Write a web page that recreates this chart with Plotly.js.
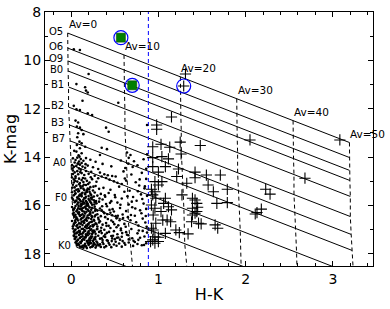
<!DOCTYPE html>
<html><head><meta charset="utf-8">
<script src="https://cdn.plot.ly/plotly-3.0.1.min.js"></script>
<style>html,body{margin:0;padding:0;background:#fff}</style>
</head><body><div id="chart" style="width:390px;height:309px"></div>
<script>
// spectral types, intrinsic H-K, K magnitude at Av=0
const spType = ['O5','O6','O9','B0','B1','B2','B3','B7','A0','F0','K0'];
const intrinsicHK = [-0.04,-0.04,-0.04,-0.035,-0.03,-0.03,-0.02,-0.01,0.0,0.01,0.06];
const kmagAv0 = [8.87,9.49,10.02,10.44,11.10,11.93,12.67,13.33,14.32,15.77,17.72];
const avLevels = [0,10,20,30,40,50];
const avLabels = ['Av=0','Av=10','Av=20','Av=30','Av=40','Av=50'];
const ehkPerAv = 0.0646;
const akPerAv = 0.0905;
const cutHK = 0.885;
const xTicks = [0,1,2,3];
const yTicks = [8,10,12,14,16,18];

// sources without IR excess (dots)
const dots = [
[0.03,9.54],[0.10,9.57],[0.20,10.56],[0.06,10.98],[0.16,11.11],[0.17,11.25],[0.19,11.33],[0.13,11.67],[0.54,11.75],[0.03,11.88],[0.06,12.02],[0.10,12.05],[0.19,12.19],[0.24,12.26],[0.05,12.49],[0.08,12.57],[0.065,12.74],[0.10,12.78],[0.12,12.88],[0.40,12.78],[0.43,12.95],[0.87,12.67],[0.08,13.01],[0.14,13.05],[0.07,13.18],[0.095,13.36],[0.12,13.43],[0.065,13.50],[0.16,13.57],[0.10,13.63],[0.35,13.61],[0.41,13.67],[0.06,13.77],[0.12,13.84],[0.33,13.91],[0.64,13.81],[0.68,13.91],[0.87,13.88],[0.095,13.98],
[0.02,14.05],[0.05,14.12],[0.07,14.02],[0.09,14.18],[0.11,14.08],[0.14,14.15],[0.17,14.04],[0.22,14.11],[0.28,14.19],[0.57,14.14],[0.66,14.03],[0.72,14.17],[0.83,14.09],[0.04,14.22],[0.08,14.27],[0.12,14.24],[0.36,14.28],
[0.01,14.33],[0.03,14.41],[0.06,14.36],[0.09,14.47],[0.10,14.31],[0.13,14.39],[0.16,14.44],[0.19,14.35],[0.25,14.42],[0.31,14.49],[0.46,14.38],[0.62,14.45],[0.76,14.34],[0.86,14.48],
[0.02,14.55],[0.04,14.63],[0.07,14.58],[0.08,14.71],[0.11,14.52],[0.12,14.66],[0.15,14.74],[0.17,14.57],[0.20,14.69],[0.23,14.61],[0.27,14.77],[0.33,14.64],[0.38,14.71],[0.42,14.75],[0.47,14.78],[0.51,14.80],[0.60,14.59],[0.69,14.72],[0.81,14.65],
[0.35,14.80],[0.40,14.86],[0.44,14.93],[0.49,15.00],[0.53,15.06],[0.58,15.11],
[0.01,14.84],[0.03,14.92],[0.05,14.86],[0.07,15.01],[0.09,14.89],[0.10,15.07],[0.12,14.95],[0.14,15.03],[0.16,14.88],[0.18,14.98],[0.21,15.05],[0.24,14.91],[0.29,15.02],[0.31,14.87],[0.63,14.97],[0.74,15.04],[0.86,14.90],
[0.02,15.14],[0.04,15.25],[0.06,15.18],[0.08,15.33],[0.09,15.12],[0.11,15.28],[0.13,15.21],[0.15,15.36],[0.17,15.15],[0.19,15.30],[0.22,15.24],[0.25,15.38],[0.28,15.19],[0.32,15.31],[0.37,15.27],[0.45,15.35],[0.55,15.22],[0.67,15.39],[0.78,15.17],[0.84,15.29],
[0.01,15.45],[0.03,15.58],[0.05,15.49],[0.07,15.66],[0.08,15.42],[0.10,15.55],[0.12,15.62],[0.13,15.47],[0.15,15.69],[0.16,15.53],[0.18,15.44],[0.20,15.61],[0.22,15.51],[0.24,15.67],[0.27,15.46],[0.30,15.59],[0.34,15.52],[0.39,15.64],[0.43,15.48],[0.50,15.57],[0.61,15.43],[0.71,15.65],[0.80,15.54],[0.87,15.60],
[0.02,15.74],[0.04,15.86],[0.06,15.79],[0.07,15.95],[0.09,15.72],[0.11,15.83],[0.12,15.98],[0.14,15.76],[0.15,15.89],[0.17,15.81],[0.19,15.93],[0.20,15.73],[0.22,15.85],[0.24,15.97],[0.26,15.78],[0.29,15.91],[0.32,15.84],[0.36,15.75],[0.40,15.94],[0.46,15.82],[0.53,15.88],[0.58,15.71],[0.66,15.96],[0.75,15.80],[0.83,15.92],
[0.01,16.06],[0.03,16.15],[0.05,16.02],[0.06,16.24],[0.08,16.11],[0.09,16.28],[0.11,16.04],[0.12,16.19],[0.14,16.09],[0.15,16.26],[0.17,16.13],[0.18,16.01],[0.20,16.22],[0.21,16.08],[0.23,16.17],[0.25,16.29],[0.27,16.05],[0.30,16.21],[0.33,16.12],[0.37,16.27],[0.41,16.03],[0.44,16.18],[0.49,16.25],[0.56,16.10],[0.63,16.23],[0.70,16.07],[0.79,16.20],[0.86,16.14],
[0.02,16.34],[0.04,16.46],[0.05,16.38],[0.07,16.55],[0.08,16.31],[0.10,16.43],[0.11,16.58],[0.13,16.36],[0.14,16.49],[0.16,16.33],[0.17,16.57],[0.19,16.41],[0.20,16.52],[0.22,16.35],[0.24,16.47],[0.26,16.59],[0.28,16.39],[0.31,16.51],[0.34,16.44],[0.38,16.32],[0.42,16.56],[0.47,16.40],[0.52,16.53],[0.59,16.37],[0.65,16.48],[0.73,16.42],[0.82,16.54],
[0.01,16.64],[0.03,16.77],[0.05,16.69],[0.06,16.85],[0.08,16.62],[0.09,16.74],[0.10,16.88],[0.12,16.67],[0.13,16.81],[0.15,16.71],[0.16,16.89],[0.18,16.63],[0.19,16.78],[0.21,16.70],[0.22,16.86],[0.24,16.66],[0.26,16.80],[0.28,16.73],[0.30,16.87],[0.33,16.65],[0.36,16.79],[0.40,16.72],[0.43,16.84],[0.48,16.68],[0.54,16.82],[0.61,16.76],[0.68,16.61],[0.77,16.83],[0.85,16.70],
[0.02,16.95],[0.03,17.08],[0.05,16.99],[0.06,17.15],[0.08,16.92],[0.09,17.04],[0.11,17.18],[0.12,16.97],[0.14,17.11],[0.15,17.01],[0.17,17.19],[0.18,16.94],[0.20,17.07],[0.21,17.16],[0.23,16.98],[0.25,17.12],[0.26,17.03],[0.28,17.17],[0.30,16.96],[0.32,17.09],[0.35,17.14],[0.38,17.00],[0.41,17.13],[0.45,16.93],[0.49,17.06],[0.53,17.19],[0.57,17.02],[0.63,17.10],[0.69,16.97],[0.76,17.15],[0.82,17.05],[0.87,17.12],
[0.03,17.24],[0.04,17.38],[0.06,17.29],[0.07,17.45],[0.09,17.22],[0.10,17.34],[0.12,17.48],[0.13,17.27],[0.15,17.41],[0.16,17.31],[0.18,17.47],[0.19,17.23],[0.21,17.36],[0.22,17.44],[0.24,17.28],[0.26,17.40],[0.27,17.33],[0.29,17.49],[0.31,17.25],[0.33,17.37],[0.36,17.43],[0.39,17.30],[0.42,17.46],[0.46,17.26],[0.50,17.39],[0.54,17.32],[0.59,17.47],[0.64,17.21],[0.70,17.35],[0.77,17.42],[0.84,17.28],
[0.05,17.53],[0.07,17.64],[0.08,17.57],[0.10,17.70],[0.11,17.55],[0.13,17.66],[0.14,17.75],[0.16,17.58],[0.17,17.69],[0.19,17.52],[0.20,17.63],[0.22,17.73],[0.23,17.56],[0.25,17.67],[0.27,17.60],[0.28,17.74],[0.30,17.54],[0.32,17.65],[0.34,17.71],[0.37,17.59],[0.40,17.68],[0.43,17.55],[0.46,17.72],[0.49,17.61],[0.52,17.66],[0.55,17.57],[0.58,17.70],[0.62,17.62],[0.66,17.53],[0.71,17.67],[0.76,17.59],[0.81,17.64],[0.86,17.56],
[0.06,15.35],[0.09,15.40],[0.14,15.31],[0.18,15.37],[0.21,15.43],[0.12,15.51],[0.17,15.64],[0.09,15.60],[0.23,15.57],[0.26,15.63],
[0.05,15.82],[0.08,15.88],[0.10,15.77],[0.13,15.92],[0.16,15.70],[0.18,15.87],[0.21,15.79],[0.23,15.90],[0.27,15.86],[0.11,15.96],
[0.04,16.10],[0.07,16.19],[0.10,16.14],[0.13,16.23],[0.16,16.06],[0.19,16.17],[0.22,16.27],[0.24,16.09],[0.28,16.16],[0.35,16.20],
[0.03,16.40],[0.06,16.49],[0.09,16.36],[0.12,16.53],[0.15,16.42],[0.18,16.50],[0.21,16.38],[0.23,16.56],[0.27,16.45],[0.30,16.36],
[0.04,16.72],[0.07,16.81],[0.11,16.75],[0.14,16.65],[0.17,16.83],[0.20,16.76],[0.23,16.68],[0.25,16.87],[0.29,16.77],[0.32,16.70],
[0.04,17.02],[0.07,17.11],[0.10,17.07],[0.13,17.16],[0.16,17.05],[0.19,17.13],[0.22,17.01],[0.24,17.18],[0.27,17.08],[0.34,17.04],
[0.05,17.33],[0.08,17.41],[0.11,17.30],[0.14,17.37],[0.17,17.26],[0.20,17.44],[0.23,17.34],[0.25,17.47],[0.28,17.29],[0.35,17.35],
[0.09,17.62],[0.12,17.72],[0.15,17.64],[0.18,17.76],[0.21,17.58],[0.24,17.70],[0.26,17.55],[0.29,17.66],[0.33,17.60],[0.38,17.73],
[0.02,14.70],[0.05,14.79],[0.03,15.05],[0.04,15.40],[0.01,15.68],[0.03,16.30],[0.02,16.86],[0.04,17.17],[0.06,17.48],
[0.36,17.52],[0.41,17.44],[0.47,17.36],[0.51,17.50],[0.56,17.41],[0.61,17.55],[0.44,17.62],[0.39,17.20],[0.48,17.25],[0.58,17.29],[0.66,17.40],[0.73,17.51],[0.79,17.33],[0.52,16.90],[0.46,16.62],[0.57,16.95],[0.39,16.48],[0.45,16.30],[0.51,16.44],
[0.015,15.26],[0.045,15.52],[0.075,15.71],[0.105,15.19],[0.135,15.84],[0.165,15.46],[0.195,15.99],[0.225,15.68],[0.255,15.22],[0.285,15.81],
[0.025,16.18],[0.055,16.57],[0.085,16.02],[0.115,16.39],[0.145,16.71],[0.175,16.26],[0.205,16.93],[0.235,16.44],[0.265,16.63],[0.295,16.98],
[0.035,17.27],[0.065,17.59],[0.095,17.12],[0.125,17.43],[0.155,17.68],[0.185,17.21],[0.215,17.52],[0.245,17.06],[0.275,17.39],[0.305,17.61],
[0.015,14.47],[0.045,14.98],[0.075,14.26],[0.105,14.62],[0.135,14.86],[0.165,14.29],[0.195,15.11],[0.225,14.83],[0.035,13.74],[0.085,13.92],
[0.115,15.58],[0.145,15.14],[0.175,15.93],[0.205,15.33],[0.235,15.74],[0.265,15.96],[0.125,16.12],[0.155,16.61],[0.185,16.84],[0.215,16.33],
[0.245,16.81],[0.275,16.22],[0.135,16.96],[0.165,17.32],[0.195,17.57],[0.225,17.28],[0.255,17.63],[0.105,17.51],[0.075,16.93],[0.045,16.63],
[0.315,16.58],[0.345,16.92],[0.375,17.27],[0.405,16.84],[0.435,17.09],[0.465,17.47],[0.495,16.77],[0.525,17.33],[0.555,16.61],[0.585,17.14],
[0.325,15.71],[0.355,16.03],[0.385,15.58],[0.415,16.36],[0.445,15.89],[0.475,16.15],[0.505,15.66],[0.535,16.42],[0.565,15.97],[0.595,16.52],
[0.625,16.88],[0.655,17.23],[0.685,16.39],[0.715,17.46],[0.745,16.69],[0.775,17.03],[0.805,16.32],[0.835,17.63],[0.865,16.88],[0.645,15.62],
[0.695,15.84],[0.735,16.12],[0.765,15.41],[0.815,15.73],[0.855,16.43],[0.615,14.88],[0.705,14.41],[0.785,14.92],[0.845,15.21],[0.655,14.27]
];

// sources with IR excess (crosses)
const crosses = [
[1.31,10.56],[1.29,11.06],[1.15,12.34],[0.98,12.67],[0.98,12.85],[1.25,13.38],[0.935,13.57],[1.03,13.47],[1.13,13.59],[1.48,13.52],[2.05,13.29],[3.08,13.29],[1.26,13.87],[0.935,14.02],[1.04,13.98],[1.115,14.07],[0.935,14.39],[1.08,14.39],[1.00,14.62],[1.23,14.49],[1.21,14.80],[1.42,14.62],[1.55,14.74],[1.71,14.74],[1.42,14.85],[0.96,15.01],[1.04,15.01],[1.00,15.15],[1.325,15.08],[1.57,15.15],[1.63,15.43],[1.79,15.33],[0.92,15.33],[0.96,15.43],[0.935,15.56],[0.97,15.70],[1.08,15.70],[1.27,15.56],[1.39,15.70],[1.67,15.91],[1.79,15.88],[0.92,15.98],[1.06,15.91],[1.115,16.05],[0.96,16.11],[1.03,16.25],[1.15,16.18],[1.45,16.07],[1.44,16.25],[1.39,16.39],[0.94,16.39],[1.05,16.60],[1.10,16.60],[1.14,16.67],[0.97,16.73],[1.38,16.67],[1.49,16.76],[1.65,16.80],[1.68,16.94],[0.92,16.94],[0.94,17.01],[1.20,17.01],[1.24,17.12],[1.34,17.17],[1.08,17.15],[0.96,17.29],[1.00,17.31],[0.91,17.49],[0.96,17.56],[0.935,17.42],[1.00,17.49],[2.23,15.33],[2.28,15.53],[2.18,16.15],[2.13,16.29],[2.11,16.35],[2.68,14.87],[1.42,15.77],[1.44,15.91],[1.39,16.11],[1.42,16.32],[1.46,16.73]
];

const greenSources = [[0.57,9.06],[0.70,11.03]];
const circledSources = [[0.57,9.06],[0.70,11.03],[1.29,11.06]];

// build reddening lines
const solidX = [], solidY = [];
spType.forEach((t,i)=>{
  const a0 = avLevels[0], a1 = avLevels[avLevels.length-1];
  solidX.push(intrinsicHK[i]+a0*ehkPerAv, intrinsicHK[i]+a1*ehkPerAv, null);
  solidY.push(kmagAv0[i]+a0*akPerAv, kmagAv0[i]+a1*akPerAv, null);
});
const dashX = [], dashY = [];
avLevels.forEach(av=>{
  spType.forEach((t,i)=>{
    dashX.push(intrinsicHK[i]+av*ehkPerAv);
    dashY.push(kmagAv0[i]+av*akPerAv);
  });
  dashX.push(null); dashY.push(null);
});

const yRange = [18.5, 8];
const xRange = [-0.3, 3.46];

const traces = [
  {x:solidX, y:solidY, mode:'lines', line:{color:'black', width:1}, hoverinfo:'skip'},
  {x:dashX, y:dashY, mode:'lines', line:{color:'black', width:1, dash:'4px,3px'}, hoverinfo:'skip'},
  {x:[cutHK,cutHK], y:yRange, mode:'lines', line:{color:'blue', width:1, dash:'4px,3px'}},
  {x:dots.map(d=>d[0]), y:dots.map(d=>d[1]), mode:'markers', marker:{symbol:'circle', size:2.6, color:'black'}},
  {x:crosses.map(d=>d[0]), y:crosses.map(d=>d[1]), mode:'markers', marker:{symbol:'cross-thin', size:8, color:'black', line:{color:'black', width:1.1}}},
  {x:greenSources.map(d=>d[0]), y:greenSources.map(d=>d[1]), mode:'markers', marker:{symbol:'square', size:9, color:'#007f00', line:{color:'#004d00', width:0.6}}},
  {x:circledSources.map(d=>d[0]), y:circledSources.map(d=>d[1]), mode:'markers', marker:{symbol:'circle-open', size:14, color:'blue', line:{width:1.2}}}
];

const annotations = [];
spType.forEach((t,i)=>{
  annotations.push({x:intrinsicHK[i], y:kmagAv0[i], text:t, showarrow:false, xanchor:'right', yanchor:'middle', xshift:-3, yshift:2, font:{family:'DejaVu Sans', size:10, color:'black'}});
});
avLevels.forEach((av,j)=>{
  annotations.push({x:intrinsicHK[0]+av*ehkPerAv, y:kmagAv0[0]+av*akPerAv, text:avLabels[j], showarrow:false, xanchor:'left', yanchor:'bottom', xshift:-1, yshift:1, font:{family:'DejaVu Sans', size:10.5, color:'black'}});
});

const layout = {
  width:390, height:309,
  margin:{l:45, r:17, t:12, b:43},
  paper_bgcolor:'white', plot_bgcolor:'white',
  showlegend:false,
  font:{family:'DejaVu Sans', color:'black'},
  xaxis:{range:xRange, tickvals:xTicks, ticktext:xTicks.map(String), ticks:'inside', ticklen:5, tickwidth:1, tickcolor:'black',
    mirror:'allticks', showline:true, linecolor:'black', linewidth:1, showgrid:false, zeroline:false,
    minor:{dtick:0.2, tick0:0, ticks:'inside', ticklen:3, tickcolor:'black', showgrid:false},
    tickfont:{size:14}, title:{text:'H-K', font:{size:16}, standoff:3}},
  yaxis:{range:yRange, tickvals:yTicks, ticktext:yTicks.map(String), ticks:'inside', ticklen:5, tickwidth:1, tickcolor:'black',
    mirror:'allticks', showline:true, linecolor:'black', linewidth:1, showgrid:false, zeroline:false,
    minor:{dtick:1, tick0:0, ticks:'inside', ticklen:3, tickcolor:'black', showgrid:false},
    tickfont:{size:14}, title:{text:'K-mag', font:{size:16}, standoff:2}},
  annotations:annotations
};

Plotly.newPlot('chart', traces, layout, {displayModeBar:false, staticPlot:true});
</script>
</body></html>
